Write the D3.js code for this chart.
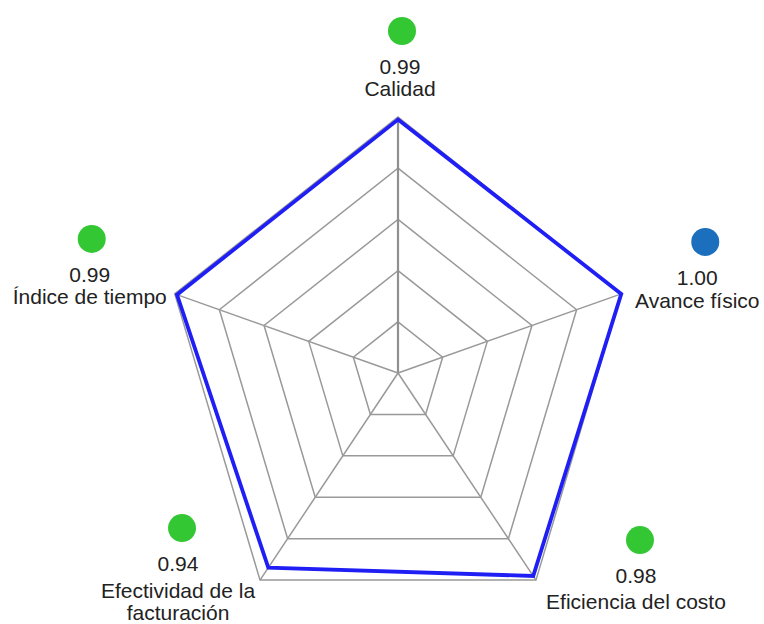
<!DOCTYPE html>
<html>
<head>
<meta charset="utf-8">
<script src="https://cdn.jsdelivr.net/npm/d3@7"></script>
<style>
  body { margin: 0; background: #fff; }
  svg text { font-family: "Liberation Sans", Arial, sans-serif; fill: #222; }
</style>
</head>
<body>
<div id="radar"></div>
<script>
// datos del gráfico
const categories = ["Calidad", "Avance físico", "Eficiencia del costo", "Efectividad de la facturación", "Índice de tiempo"];
const values = [0.99, 1.00, 0.98, 0.94, 0.99];
const ringLevels = [0.2, 0.4, 0.6, 0.8, 1.0];

const width = 764, height = 624;
const cx = 398, cy = 373;
const squeeze = 0.917; // el original está algo comprimido en horizontal

// posición de cada etiqueta respecto al vértice exterior: [dx punto, dy punto, dx texto, separación nombre]
const labelLayout = [
    [4, -86, -2, 22],
    [84, -52, -8, 23],
    [104, -40, -4, 26],
    [-78, -52, -4, 27],
    [-83, -55, -2, 22]
];

const svg = d3.select("#radar")
    .append("svg")
    .attr("width", width)
    .attr("height", height);

const r = d3.scaleLinear().domain([0, 1]).range([0, 256]);
const angle = d3.scaleLinear()
    .domain([0, categories.length])
    .range([-Math.PI / 2, 1.5 * Math.PI]);

function point(i, v) {
    const a = angle(i);
    return [cx + r(v) * Math.cos(a) * squeeze, cy + r(v) * Math.sin(a)];
}

const line = d3.line().curve(d3.curveLinearClosed);

// anillos de la telaraña
svg.selectAll(".ring")
    .data(ringLevels)
    .enter()
    .append("path")
    .attr("class", "ring")
    .attr("d", lv => line(categories.map((_, i) => point(i, lv))))
    .attr("fill", "none")
    .attr("stroke", "#999")
    .attr("stroke-width", 1.5);

// ejes
svg.selectAll(".spoke")
    .data(categories)
    .enter()
    .append("line")
    .attr("class", "spoke")
    .attr("x1", cx)
    .attr("y1", cy)
    .attr("x2", (d, i) => point(i, 1)[0])
    .attr("y2", (d, i) => point(i, 1)[1])
    .attr("stroke", (d, i) => i === 0 ? "#909090" : "#999")
    .attr("stroke-width", (d, i) => i === 0 ? 2.2 : 1.5);

// serie
svg.append("path")
    .attr("d", line(values.map((v, i) => point(i, v))))
    .attr("fill", "none")
    .attr("stroke", "#1f1ff5")
    .attr("stroke-width", 3.8)
    .attr("stroke-linejoin", "miter");

// partir nombres largos en líneas
function wrap(name, maxChars) {
    const words = name.split(" ");
    const lines = [];
    let cur = "";
    words.forEach(w => {
        const next = cur ? cur + " " + w : w;
        if (next.length > maxChars && cur) {
            lines.push(cur);
            cur = w;
        } else {
            cur = next;
        }
    });
    lines.push(cur);
    return lines;
}

const labels = svg.selectAll(".label")
    .data(categories)
    .enter()
    .append("g")
    .attr("class", "label")
    .attr("transform", (d, i) => {
        const p = point(i, 1);
        const lay = labelLayout[i];
        return `translate(${p[0] + lay[0]},${p[1] + lay[1]})`;
    });

labels.append("circle")
    .attr("r", 14)
    .attr("fill", (d, i) => values[i] >= 1 ? "#1b6fbd" : "#33c733");

labels.append("text")
    .attr("x", (d, i) => labelLayout[i][2])
    .attr("y", 43)
    .attr("text-anchor", "middle")
    .style("font-size", "21px")
    .text((d, i) => values[i].toFixed(2));

labels.each(function(d, i) {
    const lay = labelLayout[i];
    wrap(d, 20).forEach((ln, k) => {
        d3.select(this).append("text")
            .attr("x", lay[2])
            .attr("y", 43 + lay[3] + k * 22)
            .attr("text-anchor", "middle")
            .style("font-size", "21px")
            .text(ln);
    });
});
</script>
</body>
</html>
